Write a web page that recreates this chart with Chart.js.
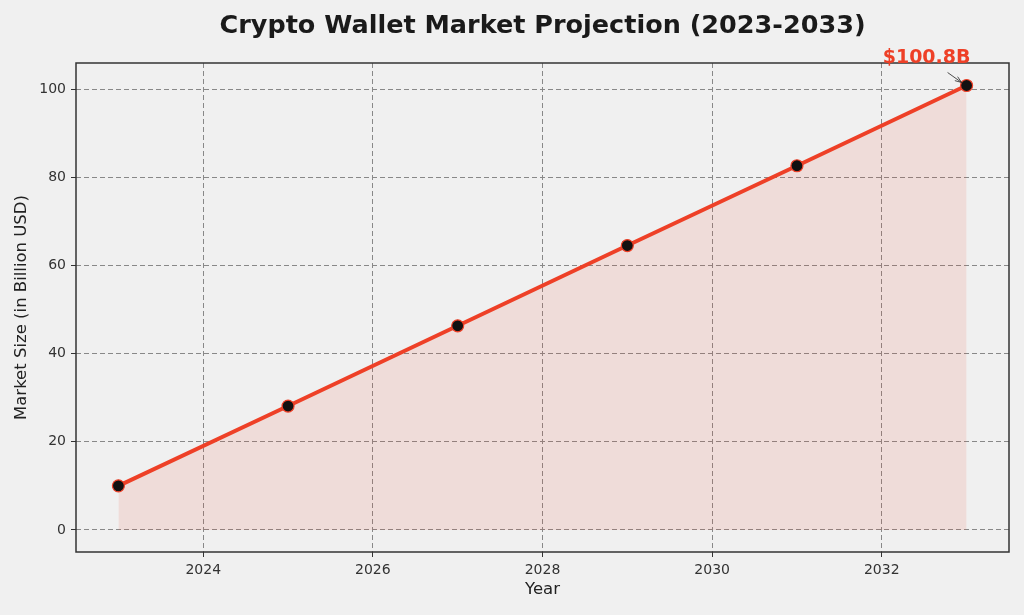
<!DOCTYPE html>
<html>
<head>
<meta charset="utf-8">
<script src="https://cdn.jsdelivr.net/npm/chart.js@4.4.0/dist/chart.umd.min.js"></script>
<style>
  html, body { margin: 0; padding: 0; background: #f0f0f0; }
  #wrap { width: 1024px; height: 615px; }
</style>
</head>
<body>
<div id="wrap"><canvas id="chart"></canvas></div>
<script>
const years = [2023, 2025, 2027, 2029, 2031, 2033];
const marketSize = [10.0, 28.1, 46.3, 64.5, 82.6, 100.8];
const xTicks = [2024, 2026, 2028, 2030, 2032];
const yTicks = [0, 20, 40, 60, 80, 100];
const lastLabel = '$100.8B';

const RED = '#ee4027';
const FONT = "'DejaVu Sans', sans-serif";

Chart.defaults.font.family = FONT;
Chart.defaults.color = '#333';

// title, frame box and the end label
const extras = {
  id: 'extras',
  beforeDraw(chart) {
    const ctx = chart.ctx;
    ctx.save();
    ctx.fillStyle = '#f0f0f0';
    ctx.fillRect(0, 0, chart.width, chart.height);
    ctx.restore();
  },
  afterDraw(chart) {
    const { ctx, chartArea: a } = chart;
    ctx.save();
    ctx.strokeStyle = '#333';
    ctx.lineWidth = 1.5;
    ctx.strokeRect(a.left, a.top, a.right - a.left, a.bottom - a.top);

    ctx.fillStyle = '#1a1a1a';
    ctx.font = 'bold 25.5px ' + FONT;
    ctx.textAlign = 'center';
    ctx.textBaseline = 'middle';
    ctx.fillText('Crypto Wallet Market Projection (2023-2033)', (a.left + a.right) / 2, 26);

    const pt = chart.getDatasetMeta(0).data[years.length - 1];
    ctx.fillStyle = RED;
    ctx.font = 'bold 19px ' + FONT;
    ctx.textBaseline = 'alphabetic';
    ctx.fillText(lastLabel, pt.x - 40, pt.y - 22);

    // arrow
    const x1 = pt.x - 19, y1 = pt.y - 13, x2 = pt.x - 5, y2 = pt.y - 3;
    ctx.strokeStyle = '#222';
    ctx.lineWidth = 0.8;
    ctx.beginPath();
    ctx.moveTo(x1, y1);
    ctx.lineTo(x2, y2);
    ctx.stroke();
    const ang = Math.atan2(y2 - y1, x2 - x1);
    ctx.beginPath();
    ctx.moveTo(x2 - 7 * Math.cos(ang - 0.35), y2 - 7 * Math.sin(ang - 0.35));
    ctx.lineTo(x2, y2);
    ctx.lineTo(x2 - 7 * Math.cos(ang + 0.35), y2 - 7 * Math.sin(ang + 0.35));
    ctx.stroke();
    ctx.restore();
  }
};

new Chart(document.getElementById('chart'), {
  type: 'line',
  data: {
    datasets: [{
      data: years.map((y, i) => ({ x: y, y: marketSize[i] })),
      borderColor: RED,
      borderWidth: 4,
      backgroundColor: 'rgba(238, 64, 39, 0.11)',
      fill: 'origin',
      tension: 0,
      pointRadius: 6,
      pointBackgroundColor: '#111',
      pointBorderColor: RED,
      pointBorderWidth: 1.2
    }]
  },
  options: {
    responsive: true, maintainAspectRatio: false,
    animation: false,
    layout: { padding: { top: 63, right: 15, left: 0, bottom: 0 } },
    plugins: {
      legend: { display: false },
      tooltip: { enabled: false }
    },
    scales: {
      x: {
        type: 'linear',
        min: 2022.5, max: 2033.5,
        afterBuildTicks: s => { s.ticks = xTicks.map(v => ({ value: v })); },
        afterFit: s => { s.height = 63; },
        ticks: { font: { size: 14 }, color: '#333', padding: 5, callback: v => String(v) },
        grid: { color: '#888', lineWidth: 1, tickLength: 5, tickColor: '#333', tickWidth: 1 },
        border: { display: false, dash: [5, 3] },
        title: { display: true, text: 'Year', font: { size: 16.5 }, color: '#222', padding: { bottom: 15 } }
      },
      y: {
        type: 'linear',
        min: -5, max: 105.9,
        afterBuildTicks: s => { s.ticks = yTicks.map(v => ({ value: v })); },
        afterFit: s => { s.width = 76; },
        ticks: { font: { size: 14 }, color: '#333', padding: 5 },
        grid: { color: '#888', lineWidth: 1, tickLength: 5, tickColor: '#333', tickWidth: 1 },
        border: { display: false, dash: [5, 3] },
        title: { display: true, text: 'Market Size (in Billion USD)', font: { size: 16.5 }, color: '#222', padding: { top: 12 } }
      }
    }
  },
  plugins: [extras]
});
</script>
</body>
</html>
